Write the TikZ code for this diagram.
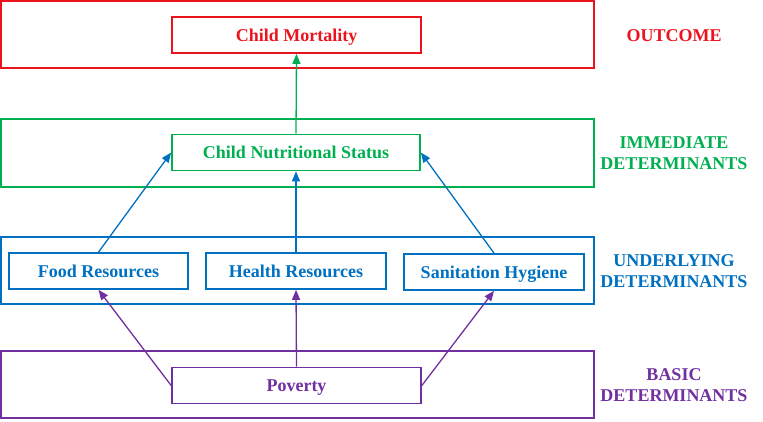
\documentclass[tikz,border=0pt]{standalone}
\usepackage{fontspec}
\setmainfont{Liberation Serif}
\usetikzlibrary{arrows.meta}
\definecolor{cred}{RGB}{235,20,30}
\definecolor{cgreen}{RGB}{0,176,80}
\definecolor{cblue}{RGB}{0,112,192}
\definecolor{cpurple}{RGB}{112,48,160}
\tikzset{
  outerbox/.style={draw, line width=1.6pt},
  innerbox/.style={draw, line width=1.7pt, minimum height=36pt, inner sep=0pt,
    text height=12.2pt, text depth=0pt,
    font=\fontsize{18}{21}\selectfont\bfseries},
  lvl/.style={align=center, font=\fontsize{18}{21}\selectfont\bfseries},
  arr/.style={line width=1.3pt, -{Triangle[length=10pt,width=8pt]}}
}
\begin{document}
\begin{tikzpicture}[x=1pt,y=-1pt]
\useasboundingbox (0,0) rectangle (763,422);
% outer level boxes
\draw[outerbox, cred] (1,1) rectangle (594,68);
\draw[outerbox, cgreen] (1,119) rectangle (594,187);
\draw[outerbox, cblue] (1,237) rectangle (594,304);
\draw[outerbox, cpurple] (1,351) rectangle (594,418);
% inner nodes
\node[innerbox, cred, minimum width=249pt] (cm) at (296.5,35) {Child Mortality};
\node[innerbox, cgreen, minimum width=248pt] (cns) at (296,152.5) {Child Nutritional Status};
\node[innerbox, cblue, minimum width=179pt] (food) at (98.5,271) {Food Resources};
\node[innerbox, cblue, minimum width=180pt] (health) at (296,271) {Health Resources};
\node[innerbox, cblue, minimum width=180pt] (san) at (494,272) {Sanitation Hygiene};
\node[innerbox, cpurple, minimum width=249pt] (pov) at (296.5,385.5) {Poverty};
% level labels
\node[lvl, cred] (l1) at (674,36) {OUTCOME};
\node[lvl, cgreen] (l2) at (674,153) {IMMEDIATE\\DETERMINANTS};
\node[lvl, cblue] (l3) at (674,271) {UNDERLYING\\DETERMINANTS};
\node[lvl, cpurple] (l4) at (674,385) {BASIC\\DETERMINANTS};
% arrows
\draw[arr, cgreen] (cns.north) -- (cm.south);
\draw[arr, cblue] (food.north) -- (cns.west);
\draw[arr, cblue] (health.north) -- (cns.south);
\draw[arr, cblue] (san.north) -- (cns.east);
\draw[arr, cpurple] (pov.west) -- (food.south);
\draw[arr, cpurple] (pov.north) -- (health.south);
\draw[arr, cpurple] (pov.east) -- (san.south);
\end{tikzpicture}
\end{document}
